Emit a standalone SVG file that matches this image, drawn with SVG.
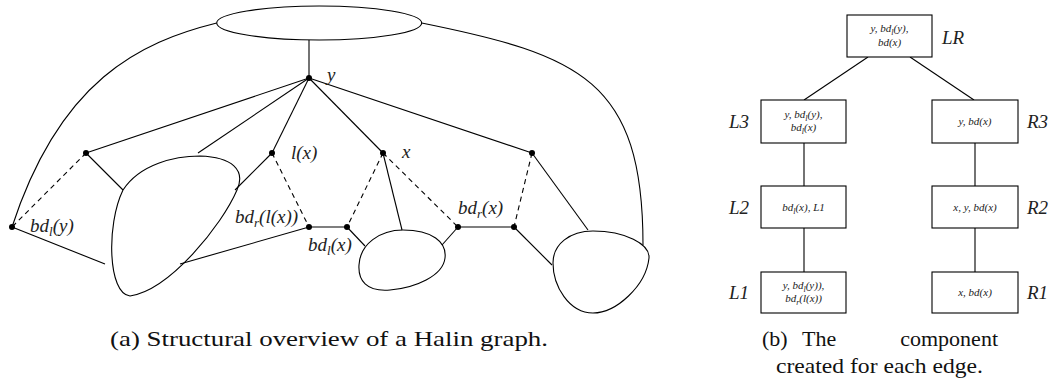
<svg xmlns="http://www.w3.org/2000/svg" width="1053" height="384" viewBox="0 0 1053 384">
<style>
.ln{stroke:#000;stroke-width:1.1;fill:none}
.ds{stroke:#000;stroke-width:1.1;fill:none;stroke-dasharray:5,4}
.blob{stroke:#000;stroke-width:1.1;fill:none}
.dot{fill:#000}
.m{font-family:"Liberation Serif","Times New Roman","DejaVu Serif",serif;font-style:italic;fill:#222}
.lab{font-size:19px}
.sm{font-size:11px}
.cap{font-family:"Liberation Serif","Times New Roman","DejaVu Serif",serif;font-size:22px;fill:#111}
.box{fill:#fff;stroke:#000;stroke-width:1.1}
.bl{font-size:19px}
</style>
<rect width="1053" height="384" fill="#fff"/>
<g id="connectors">
<path class="ln" d="M216.7,23 C140,42 60,80 12,227"/>
<path class="ln" d="M421.7,23 C580,55 643,80 643,245"/>
<line class="ln" x1="309" y1="40" x2="309" y2="78"/>
<line class="ln" x1="309" y1="78" x2="86" y2="153"/>
<line class="ln" x1="309" y1="78" x2="198" y2="153"/>
<line class="ln" x1="309" y1="78" x2="272" y2="153"/>
<line class="ln" x1="309" y1="78" x2="383" y2="153"/>
<line class="ln" x1="309" y1="78" x2="532" y2="153"/>
<line class="ds" x1="86" y1="153" x2="12" y2="227"/>
<line class="ln" x1="86" y1="153" x2="123" y2="190"/>
<line class="ln" x1="272" y1="153" x2="235" y2="190"/>
<line class="ds" x1="272" y1="153" x2="309" y2="227"/>
<line class="ds" x1="383" y1="153" x2="347" y2="227"/>
<line class="ln" x1="383" y1="153" x2="402" y2="230"/>
<line class="ds" x1="383" y1="153" x2="458" y2="227"/>
<line class="ds" x1="532" y1="153" x2="514" y2="227"/>
<line class="ln" x1="532" y1="153" x2="588" y2="230"/>
<line class="ln" x1="12" y1="227" x2="105" y2="264"/>
<line class="ln" x1="309" y1="227" x2="180" y2="264"/>
<line class="ln" x1="309" y1="227" x2="347" y2="227"/>
<line class="ln" x1="347" y1="227" x2="365" y2="246"/>
<line class="ln" x1="458" y1="227" x2="442" y2="245"/>
<line class="ln" x1="458" y1="227" x2="514" y2="227"/>
<line class="ln" x1="514" y1="227" x2="552" y2="265"/>
<line class="ln" x1="868" y1="57" x2="804" y2="100"/>
<line class="ln" x1="910" y1="57" x2="974" y2="100"/>
<line class="ln" x1="804" y1="143" x2="804" y2="186"/>
<line class="ln" x1="804" y1="228" x2="804" y2="272"/>
<line class="ln" x1="975" y1="143" x2="975" y2="186"/>
<line class="ln" x1="975" y1="228" x2="975" y2="272"/>
</g>
<g id="top-ellipse"><ellipse class="blob" cx="319.2" cy="23" rx="102.5" ry="17"/></g>
<g id="blob-left"><path class="blob" d="M130,296 C108,294 106,225 123,190 C140,164 175,156 200,156 C232,157 246,170 237,190 C222,225 170,290 130,296 Z"/></g>
<g id="blob-mid"><path class="blob" d="M403,230 C432,230 447,242 445,258 C443,276 415,288 390,290 C366,292 358,280 359,265 C360,244 380,230 403,230 Z"/></g>
<g id="blob-right"><path class="blob" d="M593,231 C625,231 650,244 649,258 C646,286 616,313 593,313 C569,313 553,286 553,263 C553,244 570,231 593,231 Z"/></g>
<g id="node-y"><circle class="dot" cx="309" cy="78" r="3"/><text class="m lab" x="327" y="81">y</text></g>
<g id="node-a"><circle class="dot" cx="86" cy="153" r="3"/></g>
<g id="node-lx"><circle class="dot" cx="272" cy="153" r="3"/><text class="m lab" x="291" y="159">l(x)</text></g>
<g id="node-x"><circle class="dot" cx="383" cy="153" r="3"/><text class="m lab" x="402" y="158">x</text></g>
<g id="node-b"><circle class="dot" cx="532" cy="153" r="3"/></g>
<g id="node-bdly"><circle class="dot" cx="12" cy="227" r="3"/><text class="m lab" x="30" y="232">bd<tspan font-size="13" dy="4">l</tspan><tspan dy="-4">(y)</tspan></text></g>
<g id="node-bdrlx"><circle class="dot" cx="309" cy="227" r="3"/><text class="m lab" x="235" y="223">bd<tspan font-size="13" dy="4">r</tspan><tspan dy="-4">(l(x))</tspan></text></g>
<g id="node-bdlx"><circle class="dot" cx="347" cy="227" r="3"/><text class="m lab" x="308" y="251">bd<tspan font-size="13" dy="4">l</tspan><tspan dy="-4">(x)</tspan></text></g>
<g id="node-bdrx"><circle class="dot" cx="458" cy="227" r="3"/><text class="m lab" x="458" y="214">bd<tspan font-size="13" dy="4">r</tspan><tspan dy="-4">(x)</tspan></text></g>
<g id="node-c"><circle class="dot" cx="514" cy="227" r="3"/></g>
<g id="box-LR"><rect class="box" x="847" y="15" width="85" height="42"/>
<text class="m sm" x="889.5" y="32" text-anchor="middle">y, bd<tspan font-size="8" dy="2.5">l</tspan><tspan dy="-2.5">(y),</tspan></text>
<text class="m sm" x="889.5" y="46" text-anchor="middle">bd(x)</text>
<text class="m bl" x="942" y="44">LR</text></g>
<g id="box-L3"><rect class="box" x="761" y="100" width="85" height="43"/>
<text class="m sm" x="803.5" y="118" text-anchor="middle">y, bd<tspan font-size="8" dy="2.5">l</tspan><tspan dy="-2.5">(y),</tspan></text>
<text class="m sm" x="803.5" y="131" text-anchor="middle">bd<tspan font-size="8" dy="2.5">l</tspan><tspan dy="-2.5">(x)</tspan></text>
<text class="m bl" x="729" y="128">L3</text></g>
<g id="box-R3"><rect class="box" x="932" y="100" width="86" height="43"/>
<text class="m sm" x="975" y="125" text-anchor="middle">y, bd(x)</text>
<text class="m bl" x="1027" y="128">R3</text></g>
<g id="box-L2"><rect class="box" x="761" y="186" width="85" height="42"/>
<text class="m sm" x="803.5" y="211" text-anchor="middle">bd<tspan font-size="8" dy="2.5">l</tspan><tspan dy="-2.5">(x), L1</tspan></text>
<text class="m bl" x="729" y="214">L2</text></g>
<g id="box-R2"><rect class="box" x="932" y="186" width="86" height="42"/>
<text class="m sm" x="975" y="211" text-anchor="middle">x, y, bd(x)</text>
<text class="m bl" x="1027" y="214">R2</text></g>
<g id="box-L1"><rect class="box" x="761" y="272" width="85" height="41"/>
<text class="m sm" x="803.5" y="289" text-anchor="middle">y, bd<tspan font-size="8" dy="2.5">l</tspan><tspan dy="-2.5">(y)),</tspan></text>
<text class="m sm" x="803.5" y="302" text-anchor="middle">bd<tspan font-size="8" dy="2.5">r</tspan><tspan dy="-2.5">(l(x))</tspan></text>
<text class="m bl" x="729" y="299">L1</text></g>
<g id="box-R1"><rect class="box" x="932" y="272" width="86" height="41"/>
<text class="m sm" x="975" y="296" text-anchor="middle">x, bd(x)</text>
<text class="m bl" x="1027" y="299">R1</text></g>
<g id="captions">
<text class="cap" x="110" y="346" textLength="438" lengthAdjust="spacingAndGlyphs">(a) Structural overview of a Halin graph.</text>
<text class="cap" x="762" y="346">(b)</text>
<text class="cap" x="802" y="346">The</text>
<text class="cap" x="998" y="346" text-anchor="end">component</text>
<text class="cap" x="776" y="373" textLength="207" lengthAdjust="spacingAndGlyphs">created for each edge.</text>
</g>
</svg>
